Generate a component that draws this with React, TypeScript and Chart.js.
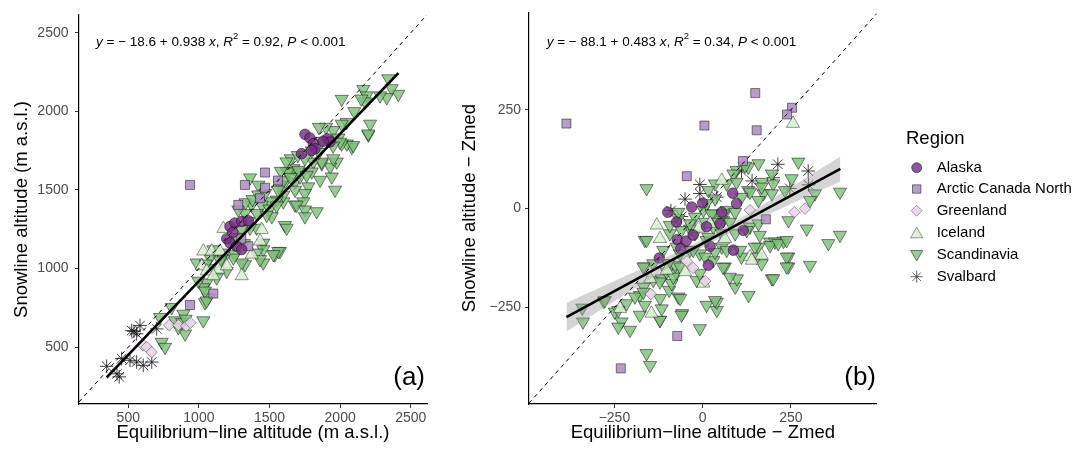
import React, { useEffect, useRef } from 'react';
import { Chart, registerables } from 'chart.js';

Chart.register(...registerables);

const FONT = '"Liberation Sans", Arial, Helvetica, sans-serif';

type P = [number, number];

// ---------- Panel (a): absolute altitudes ----------
const alaskaA: P[] = [[1751,1854],[1786,1831],[1810,1795],[1822,1763],[1727,1731],[1798,1752],[1909,1826],[1928,1805],[1880,1810],[1220,1268],[1255,1290],[1303,1300],[1350,1304],[1197,1190],[1220,1163],[1267,1142],[1303,1121],[1240,1230]];
const arcticA: P[] = [[937,1532],[1326,1532],[1468,1611],[1468,1514],[1279,1405],[1432,1447],[1560,1560],[1350,1142],[1102,841],[937,768],[1300,1190]];
const greenlandA: P[] = [[606,511],[630,500],[665,468],[790,640],[855,640],[910,635],[940,655]];
const icelandA: P[] = [[1173,1254],[1031,1110],[1091,1110],[1149,1110],[1020,1016],[1055,984],[1137,995],[1197,1016],[1445,1247],[1374,1090],[1433,1174],[1303,953],[1102,953]];
const scandinaviaA: P[] = [
  [2341,2209],[2412,2110],[2365,2146],[2330,2089],[2283,2100],[2164,2141],[2188,2100],[2176,2062],[2011,2078],[2046,1931],
  [2011,1920],[1952,1879],[2212,1920],[2200,1851],[2082,1773],[2047,1794],[2011,1794],[1976,1679],[1929,1647],[1941,1584],
  [1858,1563],[1870,1668],[1810,1679],[1799,1616],[1775,1521],[1964,1500],[1751,1479],[1704,1616],[1669,1637],[1622,1616],
  [1598,1532],[1681,1552],[1739,1426],[1681,1405],[1598,1426],[1988,1832],[1870,1811],[2093,1784],[1999,1805],[1951,1700],
  [1869,1679],[1715,1584],[1609,1275],[1574,1110],[1538,1089],[1456,1163],[1456,1037],[1326,1026],[1255,1089],[2199,1858],
  [1362,1578],[1421,1532],[1574,1532],[1633,1616],[1704,1626],[1763,1595],[1681,1500],[1598,1468],[1551,1437],[1504,1426],
  [1445,1405],[1374,1405],[1409,1352],[1326,1352],[1279,1374],[1692,1405],[1751,1374],[1751,1331],[1516,1331],[1622,1258],
  [1834,1363],[1409,1258],[1362,1258],[1456,1121],[1409,1100],[1562,1110],[1527,1090],[1433,1058],[1303,1037],[1244,1068],
  [1173,1058],[1102,1121],[1079,1068],[1197,984],[1126,942],[1055,910],[1031,879],[1067,816],[1043,784],[984,1037],
  [996,921],[1244,1163],[1043,858],[1055,795],[1031,669],[890,711],[831,669],[807,753],[724,690],[736,532],
  [760,500],[902,585],[854,626],[881,658],[906,679],[1330,1420],[1380,1440],[1420,1470],[1470,1480],[1500,1380],
  [1550,1400],[1600,1560],[1650,1580],[1560,1500],[1480,1340],[1350,1300],[1300,1250],[1180,1100],[1150,1050],[1100,1000],
  [1050,1030],[1270,1200],[1320,1160],[1650,1700],[1700,1720],[1750,1700],[1800,1750],[1850,1740],[1900,1900],[1950,1780],
  [2100,2000],[2150,2080],[1850,1900],[1620,1680],[1580,1620]
];
const svalbardA: P[] = [[347,378],[436,311],[420,330],[453,427],[512,416],[559,405],[606,384],[666,405],[524,605],[583,637],[559,585],[701,616],[540,600]];

// ---------- Panel (b): relative to Zmed ----------
const alaskaB: P[] = [[-99,-9],[-31,4],[0,14],[-72,-78],[-47,-82],[-62,-101],[-123,-125],[16,-143],[21,-95],[85,39],[96,13],[115,-55],[54,-9],[87,-105],[-74,-34],[49,-38],[-27,-67],[11,-46]];
const arcticB: P[] = [[-386,215],[149,292],[5,210],[153,198],[253,255],[239,238],[-45,82],[114,120],[179,-27],[-72,-322],[-232,-404]];
const greenlandB: P[] = [[134,-4],[260,-9],[290,0],[-27,-150],[-45,-133],[-147,-216],[7,-183]];
const icelandB: P[] = [[256,215],[-130,-42],[-149,-177],[2,-189],[-145,-265],[-234,-253],[-12,-50],[21,-38],[58,-80],[-102,-156],[54,71],[134,-122],[167,-118],[-50,-160],[-121,-76],[63,-76],[139,-131]];
const scandinaviaB: P[] = [
  [-341,-251],[-339,-286],[-280,-234],[-249,-261],[-230,-286],[-206,-307],[-216,-240],[-178,-219],[-167,-198],[-164,-147],
  [-159,51],[-164,-80],[-140,-181],[-121,-282],[-159,-366],[-149,-396],[-95,-206],[-58,-265],[-69,-223],[-98,-139],
  [-74,-164],[-8,-303],[11,-244],[40,-257],[40,-236],[63,-147],[92,-198],[130,-219],[97,-177],[196,-177],
  [167,-139],[243,-122],[243,-147],[304,-143],[295,-51],[356,-88],[389,-67],[389,42],[243,-30],[229,-82],
  [191,-84],[205,-84],[271,118],[252,76],[318,38],[304,21],[172,38],[158,114],[96,97],[129,105],
  [120,108],[196,88],[200,63],[167,67],[87,88],[35,63],[16,46],[129,46],[30,-46],[58,-30],
  [68,-4],[134,-46],[158,-38],[162,-67],[158,-97],[110,-122],[35,-232],[-239,-257],[-239,-299],[-277,-232],
  [-192,-223],[-178,-269],[-164,-244],[-168,-211],[-116,-177],[-121,-227],[-116,-253],[-121,-282],[-88,-189],[-64,-227],
  [-60,-269],[-102,-160],[-78,-143],[-93,-63],[-69,-25],[-36,-51],[-17,-181],[2,-4],[30,-13],[-8,-114],
  [-36,-105],[-64,-114],[11,-80],[54,-97],[58,-148],[30,-131],
  [68,63],[96,67],[134,42],[167,55],[196,38],[233,46],[158,21],[110,29],[35,25],[11,13],
  [-22,-21],[25,-13],[58,-13],[92,-9],[77,-34],[44,-34],[7,-34],[-36,-38],[-69,-9],[-93,-42],
  [-60,-55],[-22,-63],[16,-72],[54,-63],[92,-63],[125,-55],[148,-97],[191,-93],[214,-88],[238,-80],
  [238,-122],[238,-147],[200,-177],[153,-122],[106,-105],[68,-105],[35,-110],[7,-122],[-27,-105],[-74,-97],
  [-112,-105],[-140,-139],[-98,-139],[-64,-147],[-8,-164],[77,-173],[-83,-173],[-121,-185],[-159,-80],[-168,-147]
];
const svalbardB: P[] = [[-50,24],[-8,61],[-8,38],[213,112],[200,78],[299,95],[247,51],[40,29],[110,95],[-90,-5],[-60,-20],[140,70],[300,60]];

const regionNames = ['Alaska', 'Arctic Canada North', 'Greenland', 'Iceland', 'Scandinavia', 'Svalbard'];
const seriesA = [alaskaA, arcticA, greenlandA, icelandA, scandinaviaA, svalbardA];
const seriesB = [alaskaB, arcticB, greenlandB, icelandB, scandinaviaB, svalbardB];

const ticksA = [500, 1000, 1500, 2000, 2500];
const ticksB = [-250, 0, 250];

// fitted coefficients (as printed on the chart)
const fitA = { intercept: -18.6, slope: 0.938, xFrom: 347, xTo: 2412, xMean: 1400, se0: 6, seSlope: 0.012 };
const fitB = { intercept: -88.1, slope: 0.483, xFrom: -386, xTo: 390, xMean: 30, se0: 10, seSlope: 0.0837 };

const STYLES = [
  { pointStyle: 'circle', radius: 5.3, rotation: 0, bg: 'rgba(118,42,131,0.8)', border: 'rgba(0,0,0,0.6)' },
  { pointStyle: 'rect', radius: 6.4, rotation: 0, bg: 'rgba(175,141,195,0.88)', border: 'rgba(0,0,0,0.6)' },
  { pointStyle: 'rectRot', radius: 5.8, rotation: 0, bg: 'rgba(231,212,232,0.88)', border: 'rgba(0,0,0,0.45)' },
  { pointStyle: 'triangle', radius: 7.6, rotation: 0, bg: 'rgba(217,240,211,0.88)', border: 'rgba(0,0,0,0.5)' },
  { pointStyle: 'triangle', radius: 7.6, rotation: 180, bg: 'rgba(127,191,123,0.82)', border: 'rgba(0,0,0,0.6)' },
  { pointStyle: 'star', radius: 6.8, rotation: 0, bg: 'rgba(0,0,0,0)', border: 'rgba(20,20,20,0.8)' },
];

function fmt(v: number) {
  return v < 0 ? '\u2212' + Math.abs(v) : String(v);
}

function bandPoints(f: typeof fitA, sign: number) {
  const pts: { x: number; y: number }[] = [];
  const n = 30;
  for (let i = 0; i <= n; i++) {
    const x = f.xFrom + ((f.xTo - f.xFrom) * i) / n;
    const hw = Math.sqrt(f.se0 * f.se0 + Math.pow(f.seSlope * (x - f.xMean), 2));
    pts.push({ x, y: f.intercept + f.slope * x + sign * hw });
  }
  return pts;
}

type EqPart = { t: string; it?: boolean; sup?: boolean };
function eqParts(a: string, b: string, r2: string): EqPart[] {
  return [
    { t: 'y', it: true }, { t: ' = \u2212 ' + a + ' + ' + b + ' ' }, { t: 'x', it: true }, { t: ', ' },
    { t: 'R', it: true }, { t: '2', sup: true }, { t: ' = ' + r2 + ', ' }, { t: 'P', it: true }, { t: ' < 0.001' },
  ];
}

function makeTextPlugin(id: string, eq: EqPart[], eqX: number, eqY: number, label: string, labelRight: number, labelY: number, legend: boolean) {
  return {
    id,
    afterDraw(chart: any) {
      const ctx = chart.ctx as CanvasRenderingContext2D;
      ctx.save();
      ctx.fillStyle = '#000';
      ctx.textBaseline = 'middle';
      ctx.textAlign = 'left';
      const size = 13.5;
      let cx = eqX;
      for (const p of eq) {
        const fs = p.sup ? size * 0.7 : size;
        ctx.font = `${p.it ? 'italic ' : ''}${fs}px ${FONT}`;
        ctx.fillText(p.t, cx, p.sup ? eqY - size * 0.38 : eqY);
        cx += ctx.measureText(p.t).width;
      }
      ctx.font = `26px ${FONT}`;
      ctx.textAlign = 'right';
      ctx.fillText(label, labelRight, labelY);
      if (legend) drawLegend(ctx);
      ctx.restore();
    },
  };
}

function drawLegend(ctx: CanvasRenderingContext2D) {
  const titleX = 466;
  const markerX = 476.7;
  const textX = 496.7;
  const ys = [167.7, 189, 210.7, 233.3, 255, 276.7];
  ctx.textAlign = 'left';
  ctx.textBaseline = 'middle';
  ctx.fillStyle = '#000';
  ctx.font = `18.5px ${FONT}`;
  ctx.fillText('Region', titleX, 139);
  ctx.font = `15px ${FONT}`;
  regionNames.forEach((name, i) => {
    const y = ys[i];
    const s = STYLES[i];
    ctx.fillStyle = '#000';
    ctx.fillText(name, textX, y);
    ctx.beginPath();
    ctx.lineWidth = 0.8;
    ctx.strokeStyle = s.border;
    ctx.fillStyle = s.bg;
    const x = markerX;
    if (i === 0) {
      ctx.arc(x, y, 5, 0, Math.PI * 2);
    } else if (i === 1) {
      ctx.rect(x - 4.2, y - 4.2, 8.4, 8.4);
    } else if (i === 2) {
      ctx.moveTo(x, y - 5.5); ctx.lineTo(x + 5.5, y); ctx.lineTo(x, y + 5.5); ctx.lineTo(x - 5.5, y); ctx.closePath();
    } else if (i === 3) {
      ctx.moveTo(x, y - 6); ctx.lineTo(x + 6.1, y + 4.5); ctx.lineTo(x - 6.1, y + 4.5); ctx.closePath();
    } else if (i === 4) {
      ctx.moveTo(x, y + 6); ctx.lineTo(x + 6.1, y - 4.5); ctx.lineTo(x - 6.1, y - 4.5); ctx.closePath();
    } else {
      const r = 6;
      for (let k = 0; k < 4; k++) {
        const a = (k * Math.PI) / 4;
        ctx.moveTo(x - Math.cos(a) * r, y - Math.sin(a) * r);
        ctx.lineTo(x + Math.cos(a) * r, y + Math.sin(a) * r);
      }
      ctx.stroke();
      return;
    }
    ctx.fill();
    ctx.stroke();
  });
}

function buildConfig(opts: {
  series: P[][]; fit: typeof fitA; min: number; max: number; ymin: number; ymax: number; ticks: number[];
  yAxisWidth: number; yTitle: string; xTitle: string; yTitlePad: number; yTickPad: number; padRight: number; plugin: any;
}) {
  const datasets: any[] = [];
  opts.series.forEach((arr, i) => {
    const s = STYLES[i];
    datasets.push({
      type: 'scatter',
      label: regionNames[i],
      data: arr.map(([x, y]) => ({ x, y })),
      pointStyle: s.pointStyle,
      pointRadius: s.radius,
      pointRotation: s.rotation,
      backgroundColor: s.bg,
      borderColor: s.border,
      pointBorderWidth: i === 5 ? 1 : 0.8,
      order: 5,
    });
  });
  datasets.push({
    type: 'line', label: 'band-upper', data: bandPoints(opts.fit, 1),
    borderColor: 'rgba(0,0,0,0)', pointRadius: 0, fill: false, order: 3, tension: 0.3,
  });
  datasets.push({
    type: 'line', label: 'band-lower', data: bandPoints(opts.fit, -1),
    borderColor: 'rgba(0,0,0,0)', backgroundColor: 'rgba(153,153,153,0.42)', pointRadius: 0, fill: '-1', order: 3, tension: 0.3,
  });
  datasets.push({
    type: 'line', label: 'fit',
    data: [
      { x: opts.fit.xFrom, y: opts.fit.intercept + opts.fit.slope * opts.fit.xFrom },
      { x: opts.fit.xTo, y: opts.fit.intercept + opts.fit.slope * opts.fit.xTo },
    ],
    borderColor: '#000', borderWidth: 2.6, pointRadius: 0, fill: false, order: 2,
  });
  datasets.push({
    type: 'line', label: 'one-to-one',
    data: [{ x: opts.min, y: opts.min }, { x: opts.max, y: opts.max }],
    borderColor: '#000', borderWidth: 1, borderDash: [4, 4], pointRadius: 0, fill: false, order: 1,
  });

  const tickGrid = { display: true, drawOnChartArea: false, drawTicks: true, tickLength: 4, color: '#333', lineWidth: 1 };
  return {
    type: 'scatter',
    data: { datasets },
    options: {
      responsive: false,
      animation: false,
      events: [],
      layout: { padding: { left: 0, top: 12, right: opts.padRight, bottom: 0 } },
      plugins: { legend: { display: false }, tooltip: { enabled: false } },
      scales: {
        x: {
          type: 'linear', min: opts.min, max: opts.max,
          afterBuildTicks: (s: any) => { s.ticks = opts.ticks.map((v) => ({ value: v })); },
          afterFit: (s: any) => { s.height = 46; },
          grid: tickGrid,
          border: { display: true, color: '#000', width: 1.2 },
          ticks: { color: '#4d4d4d', font: { family: FONT, size: 14 }, padding: 2, maxRotation: 0, autoSkip: false, callback: (v: number) => fmt(v) },
          title: { display: true, text: opts.xTitle, color: '#000', font: { family: FONT, size: 18.5 }, padding: { top: 0, bottom: 6 } },
        },
        y: {
          type: 'linear', min: opts.ymin, max: opts.ymax,
          afterBuildTicks: (s: any) => { s.ticks = opts.ticks.map((v) => ({ value: v })); },
          afterFit: (s: any) => { s.width = opts.yAxisWidth; },
          grid: tickGrid,
          border: { display: true, color: '#000', width: 1.2 },
          ticks: { color: '#4d4d4d', font: { family: FONT, size: 14 }, padding: opts.yTickPad, autoSkip: false, callback: (v: number) => fmt(v) },
          title: { display: true, text: opts.yTitle, color: '#000', font: { family: FONT, size: 18.5 }, padding: { top: opts.yTitlePad, bottom: 0 } },
        },
      },
    },
    plugins: [opts.plugin],
  };
}

export default function App() {
  const refA = useRef<HTMLCanvasElement>(null);
  const refB = useRef<HTMLCanvasElement>(null);

  useEffect(() => {
    const chartA = new Chart(refA.current as HTMLCanvasElement, buildConfig({
      series: seriesA, fit: fitA, min: 151, max: 2615, ymin: 138, ymax: 2614, ticks: ticksA,
      yAxisWidth: 79, yTitle: 'Snowline altitude (m a.s.l.)', xTitle: 'Equilibrium\u2212line altitude (m a.s.l.)',
      yTitlePad: 10.6, yTickPad: 6.5, padRight: 13,
      plugin: makeTextPlugin('textA', eqParts('18.6', '0.938', '0.92'), 96, 42, '(a)', 425, 378, false),
    }) as any);
    const chartB = new Chart(refB.current as HTMLCanvasElement, buildConfig({
      series: seriesB, fit: fitB, min: -492, max: 493, ymin: -494, ymax: 496, ticks: ticksB,
      yAxisWidth: 89, yTitle: 'Snowline altitude \u2212 Zmed', xTitle: 'Equilibrium\u2212line altitude \u2212 Zmed',
      yTitlePad: 18.9, yTickPad: 4, padRight: 196.3,
      plugin: makeTextPlugin('textB', eqParts('88.1', '0.483', '0.34'), 106.7, 42, '(b)', 436, 378, true),
    }) as any);
    return () => { chartA.destroy(); chartB.destroy(); };
  }, []);

  return (
    <div style={{ position: 'absolute', left: 0, top: 0, width: 1073, height: 450, background: '#fff', overflow: 'hidden' }}>
      <canvas ref={refA} width={440} height={450} style={{ position: 'absolute', left: 0, top: 0, width: 440, height: 450 }} />
      <canvas ref={refB} width={633} height={450} style={{ position: 'absolute', left: 440, top: 0, width: 633, height: 450 }} />
    </div>
  );
}
